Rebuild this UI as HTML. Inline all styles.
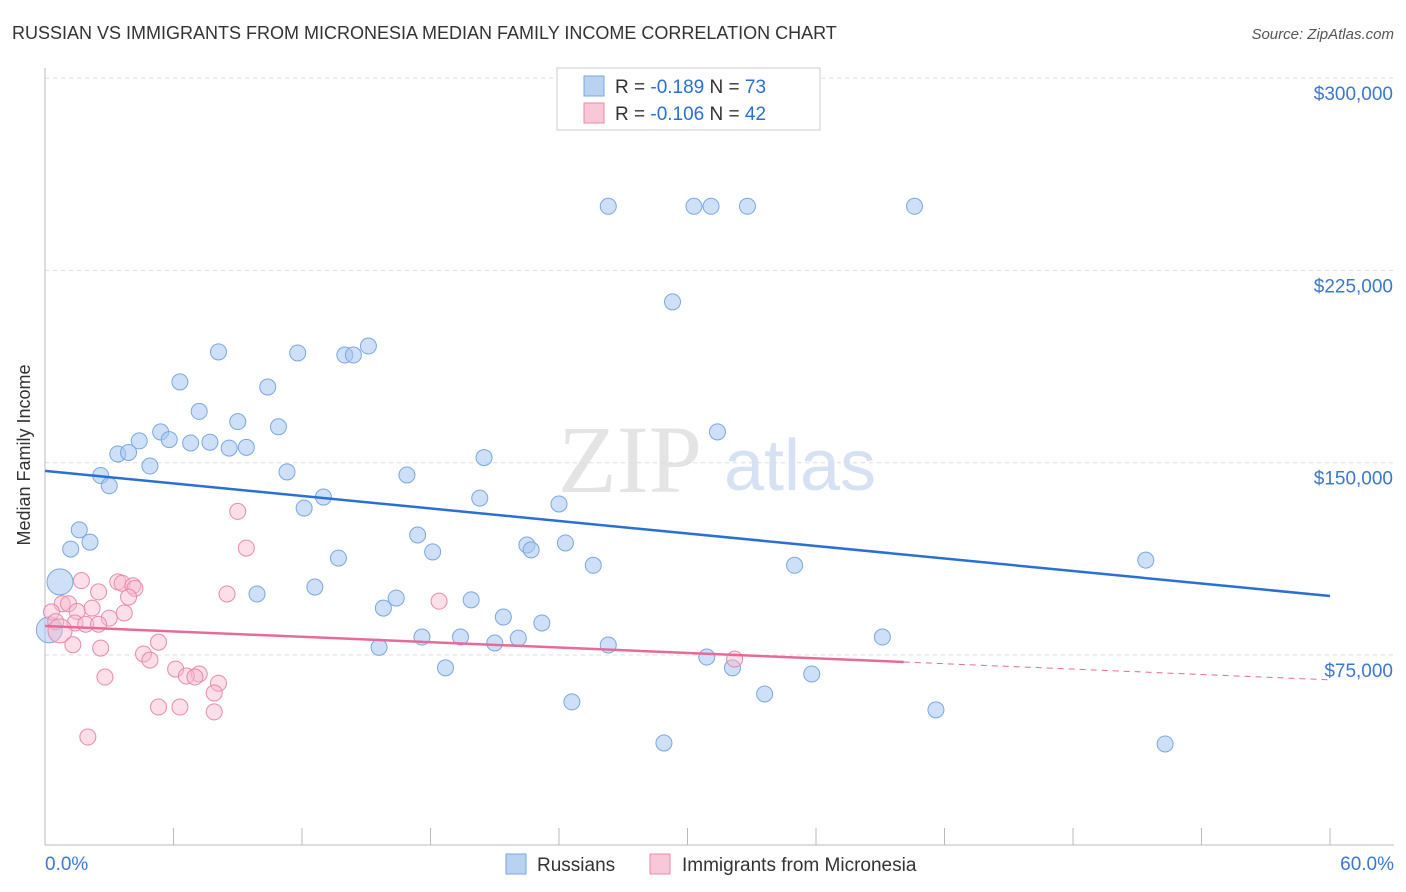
<!DOCTYPE html>
<html><head><meta charset="utf-8"><style>
body{margin:0;background:#fff;font-family:"Liberation Sans",sans-serif;}
#wrap{position:relative;width:1406px;height:892px;overflow:hidden}
</style></head><body>
<div id="wrap">
<svg id="svg" width="1406" height="892" xmlns="http://www.w3.org/2000/svg">
<text x="12" y="39" font-size="18" fill="#333">RUSSIAN VS IMMIGRANTS FROM MICRONESIA MEDIAN FAMILY INCOME CORRELATION CHART</text>
<text x="1394" y="39" font-size="15" fill="#555" font-style="italic" text-anchor="end">Source: ZipAtlas.com</text>
<text x="30" y="455" font-size="18" fill="#333" text-anchor="middle" transform="rotate(-90 30 455)">Median Family Income</text>
<text x="630" y="492" font-size="96" fill="#e4e4e4" font-family="Liberation Serif,serif" text-anchor="middle">ZIP</text>
<text x="800" y="490" font-size="72" fill="#d6e2f4" text-anchor="middle">atlas</text>
<g id="grid"></g><g id="marks"></g>
<g>
<rect x="557" y="68" width="263" height="62" fill="#fff" stroke="#ccc"/>
<rect x="584" y="76" width="20" height="20" fill="#b8d2f2" stroke="#7aa7e0"/>
<rect x="584" y="103" width="20" height="20" fill="#f8c8d8" stroke="#e88aaa"/>
<text x="615" y="93" font-size="19" fill="#333">R = <tspan fill="#2a6fd4">-0.189</tspan>   N = <tspan fill="#2a6fd4">73</tspan></text>
<text x="615" y="120" font-size="19" fill="#333">R = <tspan fill="#2a6fd4">-0.106</tspan>   N = <tspan fill="#2a6fd4">42</tspan></text>
</g>
<g>
<rect x="506" y="854" width="20" height="20" fill="#b8d2f2" stroke="#7aa7e0"/>
<text x="537" y="871" font-size="19" fill="#333">Russians</text>
<rect x="650" y="854" width="20" height="20" fill="#f8c8d8" stroke="#e88aaa"/>
<text x="682" y="871" font-size="19" fill="#333">Immigrants from Micronesia</text>
</g>
</svg></div>
<script>
const yTicks=[75000,150000,225000,300000];
const yTickLabels=["$75,000","$150,000","$225,000","$300,000"];
const xTickLabels=["0.0%","60.0%"];
const blueX=[26.3,30.3,31.1,32.8,40.6,29.3,8.1,11.8,14.0,14.4,15.1,6.3,10.4,7.2,9.0,10.9,5.4,4.4,5.8,6.8,7.7,8.6,9.4,3.4,3.9,4.9,31.4,20.5,2.6,3.0,11.3,16.9,20.3,13.0,12.1,24.0,1.6,2.1,1.2,17.4,18.1,22.5,22.7,24.3,13.7,25.6,35.0,51.4,0.7,9.9,12.6,16.4,15.8,19.9,21.4,23.2,17.6,19.4,21.0,22.1,15.6,26.3,39.1,0.2,30.9,32.1,18.7,35.8,33.6,24.6,41.6,28.9,52.3];
const blueY=[250,250,250,250,250,212.7,193.2,192.8,192,192,195.5,181.5,179.5,170,166,164,162,158.5,159,157.7,158,155.7,156,153.4,154,148.7,162,152,145,141,146.4,145.2,136.2,136.6,132.3,133.9,123.8,119,116.3,121.8,115.2,117.9,116,118.7,112.8,110,110,112,103.5,98.8,101.5,97.2,93.3,96.5,89.8,87.5,82,82,79.7,81.6,78,78.9,82,84.8,74.2,70,70,67.6,59.8,56.7,53.6,40.7,40.3];
const pinkX=[9.0,9.4,1.7,3.4,3.6,4.1,4.2,8.5,3.9,2.5,18.4,0.8,1.1,0.3,2.2,3.7,1.5,3.0,1.4,1.9,2.5,0.5,0.7,1.3,5.3,2.6,4.6,4.9,32.2,6.1,7.2,6.6,7.0,2.8,8.1,7.9,5.3,6.3,7.9,2.0];
const pinkY=[131,116.7,104,103.5,103,102,101,98.8,97.6,99.6,96,95,95,91.8,93.3,91.4,92,89.4,87.5,87,87,88,84.4,79,80,77.7,75.4,73,73.4,69.5,67.6,66.8,66.4,66.4,64,60.2,54.7,54.7,52.8,43];
const blueTrend=[146.8,98];
const pinkTrend=[86.3,65.3];
const pinkSolidEnd=40.1;
const NS="http://www.w3.org/2000/svg";
const X=v=>45+v/60*1285;
const Y=k=>655-(k-75)/75*192.3;
function mk(tag,attrs,parent){const e=document.createElementNS(NS,tag);for(const a in attrs)e.setAttribute(a,attrs[a]);parent.appendChild(e);return e;}
const grid=document.getElementById('grid'),marks=document.getElementById('marks');
yTicks.forEach((t,i)=>{const y=Y(t/1000);
 const l=mk('line',{x1:45,x2:1394,y1:y,y2:y,stroke:'#ddd','stroke-dasharray':'4,4'},grid);
 
 
 const tx=mk('text',{x:1393,y:y+22,'font-size':19,fill:'#3a78d4','text-anchor':'end'},grid);tx.textContent=yTickLabels[i];
 
 
});
const ax=mk('line',{x1:45,x2:45,y1:68,y2:845,stroke:'#bbb'},grid);


const bx=mk('line',{x1:45,x2:1394,y1:845,y2:845,stroke:'#bbb'},grid);


for(let i=0;i<=10;i++){const t=mk('line',{x1:X(i*6),x2:X(i*6),y1:828,y2:845,stroke:'#bbb'},grid);
 
 }
[[0,'start',45],[1,'end',1394]].forEach(([i,a,x])=>{const t=mk('text',{x:x,y:870,'font-size':19,fill:'#3a78d4','text-anchor':a},grid);t.textContent=xTickLabels[i];
 
 });
const bigB=[48,63],bigP=[22];
blueX.forEach((v,i)=>{const c=mk('circle',{cx:X(v),cy:Y(blueY[i]),r:bigB.includes(i)?13:8,fill:'rgba(165,198,240,0.55)',stroke:'#7aa7e0','stroke-width':1},marks);
 
 });
pinkX.forEach((v,i)=>{const c=mk('circle',{cx:X(v),cy:Y(pinkY[i]),r:bigP.includes(i)?12:8,fill:'rgba(248,185,205,0.45)',stroke:'#e88aaa','stroke-width':1},marks);
 
 });
const bl=mk('line',{x1:X(0),y1:Y(blueTrend[0]),x2:X(60),y2:Y(blueTrend[1]),stroke:'#2a6fd4','stroke-width':2.5},marks);


const pm=v=>pinkTrend[0]+(pinkTrend[1]-pinkTrend[0])*v/60;
const pl=mk('line',{x1:X(0),y1:Y(pm(0)),x2:X(pinkSolidEnd),y2:Y(pm(pinkSolidEnd)),stroke:'#e86a98','stroke-width':2.5},marks);


const pd=mk('line',{x1:X(pinkSolidEnd),y1:Y(pm(pinkSolidEnd)),x2:X(60),y2:Y(pm(60)),stroke:'#e86a98','stroke-width':1,'stroke-dasharray':'6,5'},marks);


</script></body></html>
